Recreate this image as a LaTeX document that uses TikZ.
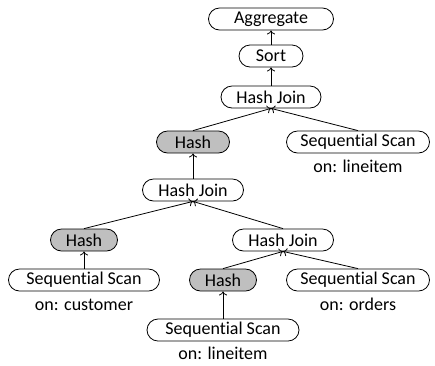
\documentclass[tikz,border=0pt]{standalone}
\usepackage{fontspec}
\setmainfont[Ligatures=NoCommon]{Carlito}
\usetikzlibrary{arrows.meta}

\begin{document}
\begin{tikzpicture}[	x=1pt,y=-1pt,%
					every node/.style={font=\fontsize{18}{20}\selectfont},%
					op/.style={draw,line width=0.8pt,rounded corners=11pt,minimum height=22pt,inner ysep=0pt,inner xsep=2pt}]
\useasboundingbox (0,0) rectangle (435,365);

% plan operators
\foreach \a/\b/\c/\d/\e/\w in { agg/271/19/Aggregate/white/125, sort/271/56/Sort/white/64, hjtop/271/97/{Hash Join}/white/100,
		hashtop/193/142/Hash/black!25/73, scanli/358/142/{Sequential Scan}/white/143, hjmid/193/190/{Hash Join}/white/101,
		hashcust/84/240/Hash/black!25/67, hjlow/283/240/{Hash Join}/white/101, scancust/84/280/{Sequential Scan}/white/151,
		hashli/223/280/Hash/black!25/67, scanord/358/280/{Sequential Scan}/white/143, scanlib/223/330/{Sequential Scan}/white/152}
	\node [op,fill=\e,minimum width=\w pt] (\a) at (\b,\c) {\d};

% table names
\foreach \a/\b/\c/\d in { onli/358/166/lineitem, oncust/84/305/customer, onord/358/304/orders, onlib/223/353/lineitem}
	\node (\a) at (\b,\c) {on: \d};

\foreach \from/\to in {sort/agg,hjtop/sort,hashtop/hjtop,scanli/hjtop,hjmid/hashtop,hashcust/hjmid,hjlow/hjmid,scancust/hashcust,hashli/hjlow,scanord/hjlow,scanlib/hashli}
	\draw [-{To[length=4pt,width=8pt]},line width=0.8pt] (\from.north) -- (\to.south);

\end{tikzpicture}
\end{document}
